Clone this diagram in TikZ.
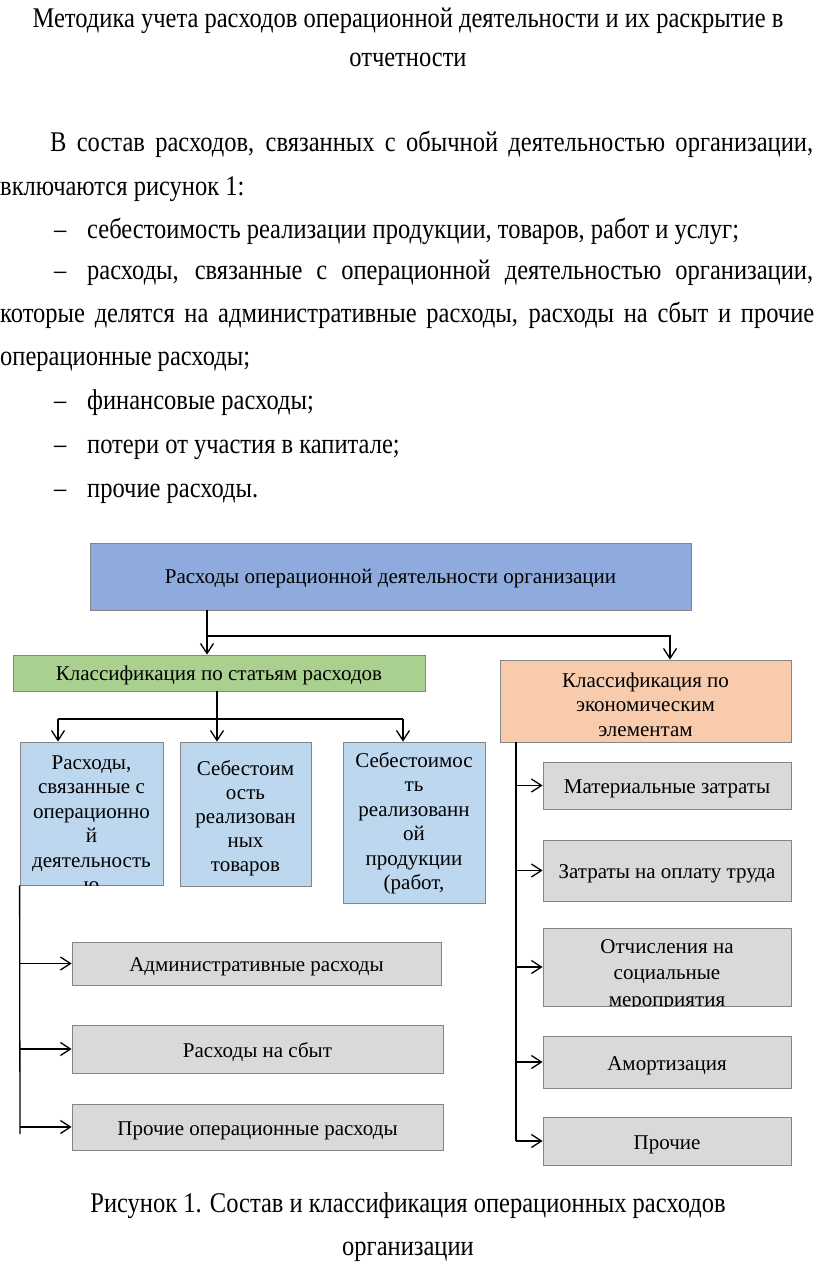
\documentclass[tikz,border=0pt]{standalone}
\usepackage{fontspec}
\setmainfont{Liberation Serif}
\newfontfamily\bodyfont{Liberation Serif}[FakeStretch=0.86]
\usetikzlibrary{arrows.meta}
\definecolor{topblue}{HTML}{8FAADC}
\definecolor{grn}{HTML}{A9D08E}
\definecolor{orng}{HTML}{F8CBAD}
\definecolor{lblue}{HTML}{BDD7EE}
\definecolor{gry}{HTML}{D9D9D9}
\definecolor{edge}{HTML}{858585}
\begin{document}
\begin{tikzpicture}[x=1pt,y=-1pt,
  body/.style={font=\bodyfont\fontsize{28.5}{33}\selectfont, inner sep=0pt, anchor=base west},
  bodyc/.style={font=\bodyfont\fontsize{28.5}{33}\selectfont, inner sep=0pt, anchor=base},
  dtext/.style={font=\fontsize{21}{25}\selectfont, inner sep=0pt, anchor=base},
  box/.style={draw=edge, line width=0.8pt, inner sep=0pt, font=\fontsize{21}{25}\selectfont},
  gbox/.style={box, fill=gry, text height=18pt, text depth=2pt},
  conn/.style={line width=1.3pt, draw=black},
  arr/.style={conn, -{Straight Barb[length=10pt,width=13pt,line width=1.3pt]}}
]
\useasboundingbox (0,0) rectangle (816,1275);
\fill[white] (0,0) rectangle (816,1275);

% ---- text above
\node[bodyc] (t1) at (408,27) {Методика учета расходов операционной деятельности и их раскрытие в};
\node[bodyc] (t2) at (408,66) {отчетности};
\node[body] (p1) at (50,151) {\makebox[763pt][s]{В состав расходов, связанных с обычной деятельностью организации,}};
\node[body] (p2) at (0,195) {включаются рисунок 1:};
\node[body] (d1) at (54,238) {–};
\node[body] (p3) at (87,238) {себестоимость реализации продукции, товаров, работ и услуг;};
\node[body] (d2) at (54,279) {–};
\node[body] (p4) at (87,279) {\makebox[726pt][s]{расходы, связанные с операционной деятельностью организации,}};
\node[body] (p5) at (0,322) {\makebox[814pt][s]{которые делятся на административные расходы, расходы на сбыт и прочие}};
\node[body] (p6) at (0,365) {операционные расходы;};
\node[body] (d3) at (54,409) {–};
\node[body] (p7) at (87,409) {финансовые расходы;};
\node[body] (d4) at (54,453) {–};
\node[body] (p8) at (87,453) {потери от участия в капитале;};
\node[body] (d5) at (54,497) {–};
\node[body] (p9) at (87,497) {прочие расходы.};

% ---- diagram boxes
\node[box, fill=topblue, minimum width=601pt, minimum height=67pt] (top) at (390.5,576.5) {};
\node[dtext] (topt) at (top.center |- 0,583) {Расходы операционной деятельности организации};
\node[box, fill=grn, minimum width=412pt, minimum height=36pt] (grnb) at (219,673) {};
\node[dtext] (grnt) at (grnb.center |- 0,680) {Классификация по статьям расходов};
\node[box, fill=orng, minimum width=291pt, minimum height=82pt] (orb) at (645.5,701) {};
\foreach \t [count=\i] in {Классификация по,экономическим,элементам}
  \node[dtext] (ort\i) at (645.5,{687+24.5*(\i-1)}) {\t};

\node[box, fill=lblue, minimum width=143pt, minimum height=143pt] (c1) at (91.5,813.5) {};
\node[box, fill=lblue, minimum width=131pt, minimum height=144pt] (c2) at (245.5,814) {};
\node[box, fill=lblue, minimum width=142pt, minimum height=161pt] (c3) at (414,822.5) {};
\begin{scope}
\clip (c1.south west) rectangle (c1.north east);
\foreach \t [count=\i] in {{Расходы,},связанные с,операционно,й,деятельность,ю}
  \node[dtext] (c1t\i) at (91.5,{769+24.5*(\i-1)}) {\t};
\end{scope}
\foreach \t [count=\i] in {Себестоим,ость,реализован,ных,товаров}
  \node[dtext] (c2t\i) at (245.5,{775+24*(\i-1)}) {\t};
\begin{scope}
\clip (c3.south west) rectangle (c3.north east);
\foreach \t [count=\i] in {Себестоимос,ть,реализованн,ой,продукции,{(работ,}}
  \node[dtext] (c3t\i) at (414,{767+24.5*(\i-1)}) {\t};
\end{scope}

\node[gbox, minimum width=369pt, minimum height=43pt] (g1) at (256.5,963.5) {Административные расходы};
\node[gbox, minimum width=371pt, minimum height=48pt] (g2) at (257.5,1049) {Расходы на сбыт};
\node[gbox, minimum width=371pt, minimum height=46pt] (g3) at (257.5,1127) {Прочие операционные расходы};

\node[gbox, minimum width=248pt, minimum height=47pt] (r1) at (667,785.5) {Материальные затраты};
\node[gbox, minimum width=248pt, minimum height=61pt] (r2) at (667,870.5) {Затраты на оплату труда};
\node[box, fill=gry, minimum width=248pt, minimum height=78pt] (r3) at (667,967) {};
\begin{scope}
\clip (r3.south west) rectangle (r3.north east);
\foreach \t [count=\i] in {Отчисления на,социальные,мероприятия}
  \node[dtext] (r3t\i) at (667,{953+26.5*(\i-1)}) {\t};
\end{scope}
\node[gbox, minimum width=248pt, minimum height=52pt] (r4) at (667,1062) {Амортизация};
\node[gbox, minimum width=248pt, minimum height=48pt] (r5) at (667,1141) {Прочие};

% ---- connectors
\draw[arr] (top.south -| 207,0) -- (grnb.north -| 207,0);
\coordinate (j1) at (207,636);
\draw[arr] (j1) -| (orb.north -| 670,0);
\coordinate (j2) at (217,719);
\draw[conn] (grnb.south -| j2) -- (j2);
\coordinate (j2l) at (58,719);
\coordinate (j2r) at (403,719);
\draw[conn] (j2l) -- (j2r);
\draw[arr] (j2l) -- (c1.north -| j2l);
\draw[arr] (j2) -- (c2.north -| j2);
\draw[arr] (j2r) -- (c3.north -| j2r);

\coordinate (lb) at (20,1134);
\draw[conn] (c1.south west) -- (lb);
\draw[arr] (g1.west -| lb) -- (g1.west);
\draw[arr] (g2.west -| lb) -- (g2.west);
\draw[arr] (g3.west -| lb) -- (g3.west);

\coordinate (rb) at (516,1141);
\draw[conn] (orb.south -| rb) -- (rb);
\draw[arr] (r1.west -| rb) -- (r1.west);
\draw[arr] (r2.west -| rb) -- (r2.west);
\draw[arr] (r3.west -| rb) -- (r3.west);
\draw[arr] (r4.west -| rb) -- (r4.west);
\draw[arr] (r5.west -| rb) -- (r5.west);

% ---- caption
\node[bodyc] (cap1) at (408,1212) {Рисунок 1. Состав и классификация операционных расходов};
\node[bodyc] (cap2) at (408,1255) {организации};
\end{tikzpicture}
\end{document}
